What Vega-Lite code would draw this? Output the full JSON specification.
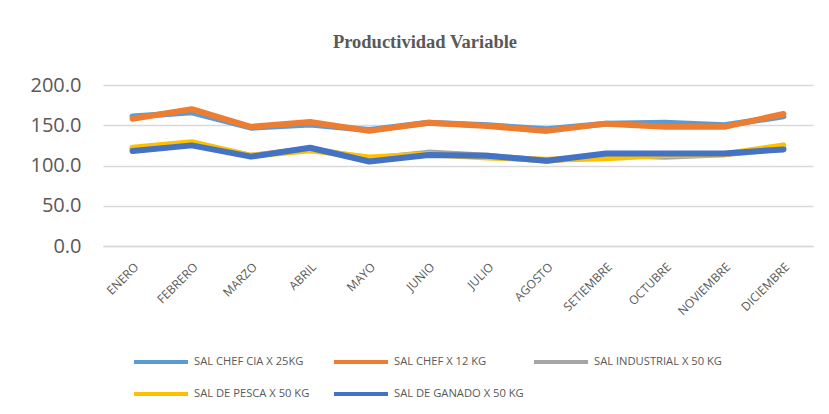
{
  "$schema": "https://vega.github.io/schema/vega-lite/v6.json",
  "width": 710,
  "height": 161,
  "autosize": {"type": "none"},
  "padding": {"left": 103, "top": 85, "right": 16, "bottom": 168},
  "background": "white",
  "title": {
    "text": "Productividad Variable",
    "font": "Liberation Serif",
    "fontSize": 18.5,
    "fontWeight": "bold",
    "color": "#595959",
    "anchor": "middle",
    "dx": -33,
    "offset": 24
  },
  "data": {
    "values": [
      {"mes": "ENERO", "serie": "SAL CHEF CIA X 25KG", "valor": 161},
      {"mes": "FEBRERO", "serie": "SAL CHEF CIA X 25KG", "valor": 166},
      {"mes": "MARZO", "serie": "SAL CHEF CIA X 25KG", "valor": 147},
      {"mes": "ABRIL", "serie": "SAL CHEF CIA X 25KG", "valor": 151},
      {"mes": "MAYO", "serie": "SAL CHEF CIA X 25KG", "valor": 144},
      {"mes": "JUNIO", "serie": "SAL CHEF CIA X 25KG", "valor": 153},
      {"mes": "JULIO", "serie": "SAL CHEF CIA X 25KG", "valor": 150},
      {"mes": "AGOSTO", "serie": "SAL CHEF CIA X 25KG", "valor": 145},
      {"mes": "SETIEMBRE", "serie": "SAL CHEF CIA X 25KG", "valor": 152},
      {"mes": "OCTUBRE", "serie": "SAL CHEF CIA X 25KG", "valor": 153},
      {"mes": "NOVIEMBRE", "serie": "SAL CHEF CIA X 25KG", "valor": 150},
      {"mes": "DICIEMBRE", "serie": "SAL CHEF CIA X 25KG", "valor": 161},
      {"mes": "ENERO", "serie": "SAL CHEF X 12 KG", "valor": 158},
      {"mes": "FEBRERO", "serie": "SAL CHEF X 12 KG", "valor": 170},
      {"mes": "MARZO", "serie": "SAL CHEF X 12 KG", "valor": 148},
      {"mes": "ABRIL", "serie": "SAL CHEF X 12 KG", "valor": 154},
      {"mes": "MAYO", "serie": "SAL CHEF X 12 KG", "valor": 143},
      {"mes": "JUNIO", "serie": "SAL CHEF X 12 KG", "valor": 153},
      {"mes": "JULIO", "serie": "SAL CHEF X 12 KG", "valor": 149},
      {"mes": "AGOSTO", "serie": "SAL CHEF X 12 KG", "valor": 143},
      {"mes": "SETIEMBRE", "serie": "SAL CHEF X 12 KG", "valor": 152},
      {"mes": "OCTUBRE", "serie": "SAL CHEF X 12 KG", "valor": 148},
      {"mes": "NOVIEMBRE", "serie": "SAL CHEF X 12 KG", "valor": 148},
      {"mes": "DICIEMBRE", "serie": "SAL CHEF X 12 KG", "valor": 164},
      {"mes": "ENERO", "serie": "SAL INDUSTRIAL  X 50 KG", "valor": 121},
      {"mes": "FEBRERO", "serie": "SAL INDUSTRIAL  X 50 KG", "valor": 128},
      {"mes": "MARZO", "serie": "SAL INDUSTRIAL  X 50 KG", "valor": 112},
      {"mes": "ABRIL", "serie": "SAL INDUSTRIAL  X 50 KG", "valor": 121},
      {"mes": "MAYO", "serie": "SAL INDUSTRIAL  X 50 KG", "valor": 108},
      {"mes": "JUNIO", "serie": "SAL INDUSTRIAL  X 50 KG", "valor": 116},
      {"mes": "JULIO", "serie": "SAL INDUSTRIAL  X 50 KG", "valor": 112},
      {"mes": "AGOSTO", "serie": "SAL INDUSTRIAL  X 50 KG", "valor": 106},
      {"mes": "SETIEMBRE", "serie": "SAL INDUSTRIAL  X 50 KG", "valor": 113},
      {"mes": "OCTUBRE", "serie": "SAL INDUSTRIAL  X 50 KG", "valor": 111},
      {"mes": "NOVIEMBRE", "serie": "SAL INDUSTRIAL  X 50 KG", "valor": 114},
      {"mes": "DICIEMBRE", "serie": "SAL INDUSTRIAL  X 50 KG", "valor": 121},
      {"mes": "ENERO", "serie": "SAL DE PESCA X 50 KG", "valor": 122},
      {"mes": "FEBRERO", "serie": "SAL DE PESCA X 50 KG", "valor": 129},
      {"mes": "MARZO", "serie": "SAL DE PESCA X 50 KG", "valor": 112},
      {"mes": "ABRIL", "serie": "SAL DE PESCA X 50 KG", "valor": 119},
      {"mes": "MAYO", "serie": "SAL DE PESCA X 50 KG", "valor": 110},
      {"mes": "JUNIO", "serie": "SAL DE PESCA X 50 KG", "valor": 114},
      {"mes": "JULIO", "serie": "SAL DE PESCA X 50 KG", "valor": 110},
      {"mes": "AGOSTO", "serie": "SAL DE PESCA X 50 KG", "valor": 107},
      {"mes": "SETIEMBRE", "serie": "SAL DE PESCA X 50 KG", "valor": 109},
      {"mes": "OCTUBRE", "serie": "SAL DE PESCA X 50 KG", "valor": 113},
      {"mes": "NOVIEMBRE", "serie": "SAL DE PESCA X 50 KG", "valor": 114},
      {"mes": "DICIEMBRE", "serie": "SAL DE PESCA X 50 KG", "valor": 125},
      {"mes": "ENERO", "serie": "SAL DE GANADO X 50 KG", "valor": 118},
      {"mes": "FEBRERO", "serie": "SAL DE GANADO X 50 KG", "valor": 125},
      {"mes": "MARZO", "serie": "SAL DE GANADO X 50 KG", "valor": 111},
      {"mes": "ABRIL", "serie": "SAL DE GANADO X 50 KG", "valor": 122},
      {"mes": "MAYO", "serie": "SAL DE GANADO X 50 KG", "valor": 105},
      {"mes": "JUNIO", "serie": "SAL DE GANADO X 50 KG", "valor": 113},
      {"mes": "JULIO", "serie": "SAL DE GANADO X 50 KG", "valor": 112},
      {"mes": "AGOSTO", "serie": "SAL DE GANADO X 50 KG", "valor": 106},
      {"mes": "SETIEMBRE", "serie": "SAL DE GANADO X 50 KG", "valor": 115},
      {"mes": "OCTUBRE", "serie": "SAL DE GANADO X 50 KG", "valor": 115},
      {"mes": "NOVIEMBRE", "serie": "SAL DE GANADO X 50 KG", "valor": 115},
      {"mes": "DICIEMBRE", "serie": "SAL DE GANADO X 50 KG", "valor": 120}
    ]
  },
  "mark": {"type": "line", "strokeWidth": 6, "strokeJoin": "round", "strokeCap": "round"},
  "encoding": {
    "x": {
      "field": "mes",
      "type": "nominal",
      "sort": null,
      "scale": {"type": "point", "padding": 0.5},
      "axis": {
        "title": null,
        "labelAngle": -45,
        "labelFont": "Open Sans",
        "labelFontSize": 12,
        "labelColor": "#595959",
        "labelPadding": 15,
        "ticks": false,
        "domainColor": "#d9d9d9",
        "domainWidth": 1.5,
        "grid": false
      }
    },
    "y": {
      "field": "valor",
      "type": "quantitative",
      "scale": {"domain": [0, 200], "nice": false},
      "axis": {
        "title": null,
        "values": [0, 50, 100, 150, 200],
        "format": ".1f",
        "labelFont": "Open Sans",
        "labelFontSize": 20,
        "labelColor": "#595959",
        "labelPadding": 22,
        "ticks": false,
        "domain": false,
        "gridColor": "#d9d9d9",
        "gridWidth": 1.5
      }
    },
    "color": {
      "field": "serie",
      "type": "nominal",
      "sort": null,
      "scale": {
        "domain": ["SAL CHEF CIA X 25KG", "SAL CHEF X 12 KG", "SAL INDUSTRIAL  X 50 KG", "SAL DE PESCA X 50 KG", "SAL DE GANADO X 50 KG"],
        "range": ["#5B9BD5", "#ED7D31", "#A5A5A5", "#FFC000", "#4472C4"]
      },
      "legend": {
        "title": null,
        "orient": "none",
        "legendX": 29,
        "legendY": 261,
        "direction": "horizontal",
        "columns": 3,
        "gridAlign": "all",
        "columnPadding": 7,
        "rowPadding": 0,
        "clipHeight": 32,
        "symbolType": "stroke",
        "symbolSize": 2916,
        "symbolStrokeWidth": 4,
        "labelFont": "Open Sans",
        "labelFontSize": 11.2,
        "labelColor": "#595959",
        "labelOffset": 4
      }
    }
  },
  "config": {"view": {"stroke": null}}
}
